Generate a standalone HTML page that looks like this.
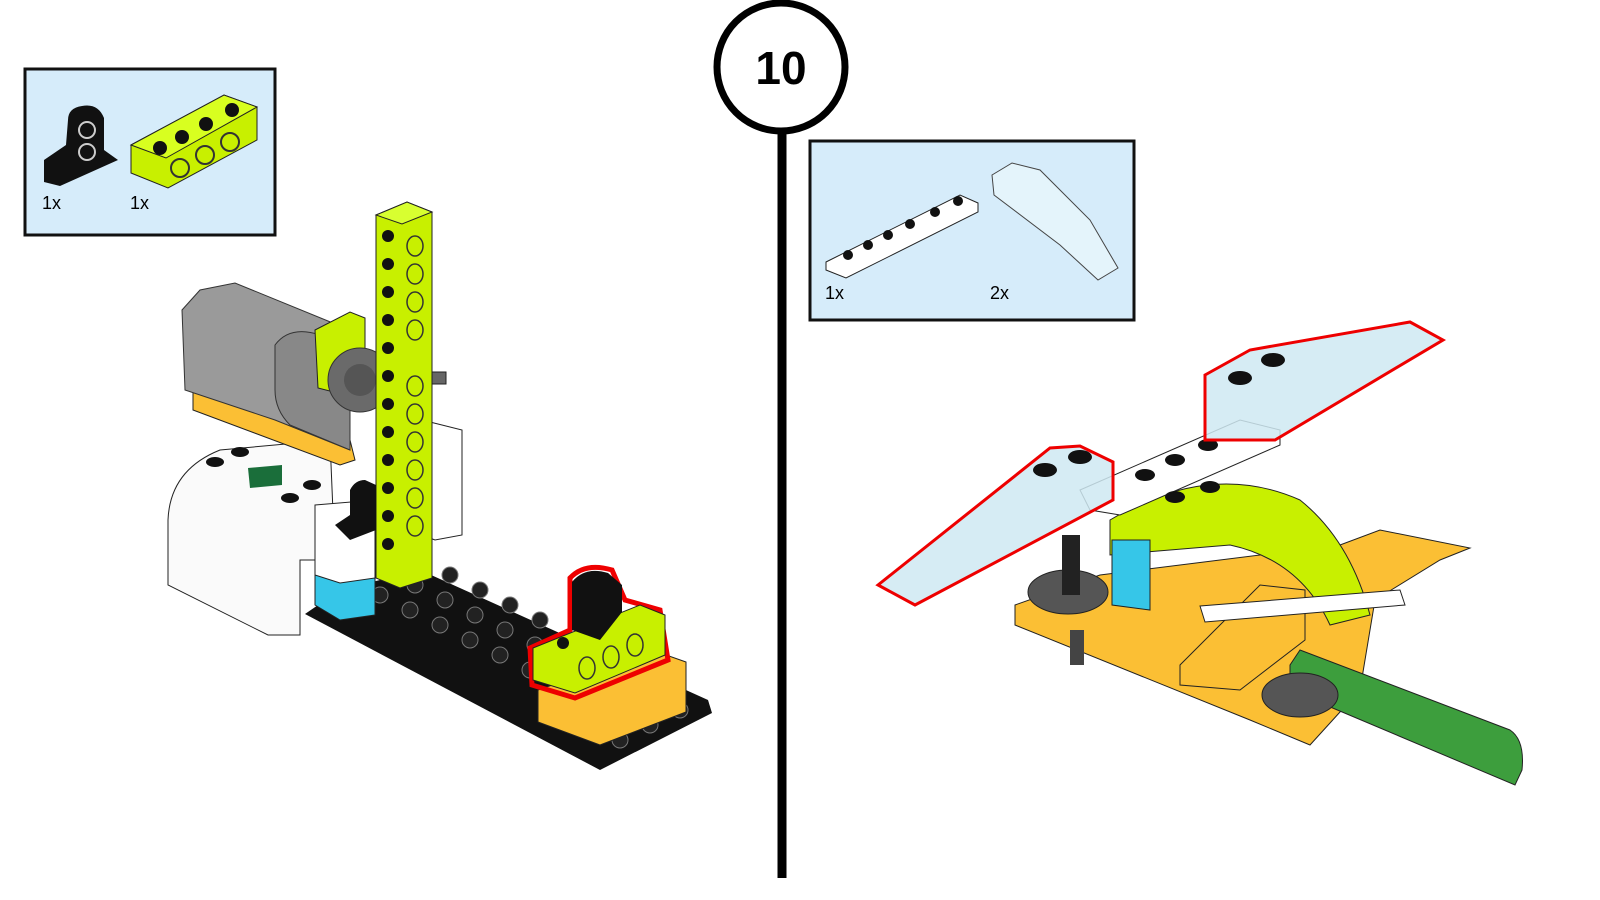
<!DOCTYPE html>
<html><head><meta charset="utf-8"><style>
html,body{margin:0;padding:0;background:#fff;}
svg{display:block;}
text{font-family:"Liberation Sans",sans-serif;}
</style></head><body>
<svg width="1600" height="900" viewBox="0 0 1600 900" xmlns="http://www.w3.org/2000/svg">
<rect width="1600" height="900" fill="#fff"/>
<!-- step marker -->
<line x1="782" y1="128" x2="782" y2="878" stroke="#000" stroke-width="9"/>
<circle cx="781" cy="67" r="64" fill="#fff" stroke="#000" stroke-width="7"/>
<text x="781" y="84" font-size="46" font-weight="bold" text-anchor="middle">10</text>

<!-- left parts box -->
<rect x="25" y="69" width="250" height="166" fill="#d6ecfa" stroke="#111" stroke-width="3"/>
<path d="M44,168 L44,182 L60,186 L118,160 L104,150 L104,118 Q98,103 82,106 Q68,108 68,120 L66,145 L44,160 Z" fill="#111"/>
<circle cx="87" cy="130" r="8" fill="none" stroke="#ccc" stroke-width="2"/><circle cx="87" cy="152" r="8" fill="none" stroke="#ccc" stroke-width="2"/>
<polygon points="131,145 224,95 257,107 257,140 168,188 131,173" fill="#c8f000" stroke="#222"/>
<polygon points="131,145 224,95 257,107 166,158" fill="#d8ff20" stroke="#222"/>
<g fill="#111"><circle cx="160" cy="148" r="7"/><circle cx="182" cy="137" r="7"/><circle cx="206" cy="124" r="7"/><circle cx="232" cy="110" r="7"/></g>
<g fill="none" stroke="#333" stroke-width="2"><circle cx="180" cy="168" r="9"/><circle cx="205" cy="155" r="9"/><circle cx="230" cy="142" r="9"/></g>
<text x="42" y="209" font-size="18">1x</text>
<text x="130" y="209" font-size="18">1x</text>

<!-- right parts box -->
<rect x="810" y="141" width="324" height="179" fill="#d6ecfa" stroke="#111" stroke-width="3"/>
<polygon points="826,262 960,195 978,203 978,212 846,278 826,270" fill="#fff" stroke="#222"/>
<g fill="#111"><circle cx="848" cy="255" r="5"/><circle cx="868" cy="245" r="5"/><circle cx="888" cy="235" r="5"/><circle cx="910" cy="224" r="5"/><circle cx="935" cy="212" r="5"/><circle cx="958" cy="201" r="5"/></g>
<polygon points="992,175 1012,163 1040,170 1090,220 1118,268 1098,280 1060,245 994,195" fill="#e4f4fb" stroke="#444"/>
<text x="825" y="299" font-size="18">1x</text>
<text x="990" y="299" font-size="18">2x</text>

<!-- LEFT MODEL -->
<polygon points="305,614 600,770 712,713 708,700 420,570 340,590" fill="#111"/>
<g fill="#222" stroke="#777" stroke-width="1">
<circle cx="380" cy="595" r="8"/><circle cx="410" cy="610" r="8"/><circle cx="440" cy="625" r="8"/><circle cx="470" cy="640" r="8"/><circle cx="500" cy="655" r="8"/><circle cx="530" cy="670" r="8"/>
<circle cx="415" cy="585" r="8"/><circle cx="445" cy="600" r="8"/><circle cx="475" cy="615" r="8"/><circle cx="505" cy="630" r="8"/><circle cx="535" cy="645" r="8"/>
<circle cx="450" cy="575" r="8"/><circle cx="480" cy="590" r="8"/><circle cx="510" cy="605" r="8"/><circle cx="540" cy="620" r="8"/>
<circle cx="620" cy="740" r="8"/><circle cx="650" cy="725" r="8"/><circle cx="680" cy="710" r="8"/></g>
<!-- hub -->
<path d="M168,520 Q170,470 220,450 L330,440 L335,560 L300,560 L300,635 L268,635 L168,585 Z" fill="#fafafa" stroke="#222"/>
<polygon points="248,468 282,465 282,485 250,488" fill="#1a6e3a"/>
<g fill="#111"><ellipse cx="215" cy="462" rx="9" ry="5"/><ellipse cx="240" cy="452" rx="9" ry="5"/><ellipse cx="290" cy="498" rx="9" ry="5"/><ellipse cx="312" cy="485" rx="9" ry="5"/></g>
<!-- cyan + white block -->
<polygon points="315,540 375,530 375,615 340,620 315,605" fill="#36c6e8" stroke="#222"/>
<polygon points="315,505 375,500 375,578 340,583 315,575" fill="#fff" stroke="#222"/>
<polygon points="422,420 462,430 462,535 435,540 422,535" fill="#fff" stroke="#222"/>
<!-- orange under motor -->
<polygon points="193,378 350,440 355,460 340,465 193,410" fill="#fbbf34" stroke="#222"/>
<!-- motor -->
<path d="M182,310 L200,290 L235,283 L350,330 L350,450 L275,420 L185,390 Z" fill="#9a9a9a" stroke="#333"/>
<path d="M275,345 Q290,325 320,335 L350,350 L350,450 L290,425 Q275,410 275,390 Z" fill="#888" stroke="#333"/>
<!-- lime brick behind gear -->
<polygon points="315,330 350,312 365,318 365,400 318,388" fill="#c8f000" stroke="#222"/>
<circle cx="360" cy="380" r="32" fill="#6a6a6a" stroke="#333"/>
<circle cx="360" cy="380" r="16" fill="#555"/>
<rect x="420" y="372" width="26" height="12" fill="#666" stroke="#222"/>
<!-- vertical beam -->
<polygon points="376,215 407,202 432,212 432,578 400,588 376,578" fill="#c8f000" stroke="#222"/>
<polygon points="376,215 407,202 432,212 402,224" fill="#d8ff30" stroke="#222"/>
<g fill="#111">
<circle cx="388" cy="236" r="6"/><circle cx="388" cy="264" r="6"/><circle cx="388" cy="292" r="6"/><circle cx="388" cy="320" r="6"/><circle cx="388" cy="348" r="6"/><circle cx="388" cy="376" r="6"/><circle cx="388" cy="404" r="6"/><circle cx="388" cy="432" r="6"/><circle cx="388" cy="460" r="6"/><circle cx="388" cy="488" r="6"/><circle cx="388" cy="516" r="6"/><circle cx="388" cy="544" r="6"/></g>
<g fill="none" stroke="#333" stroke-width="1.5">
<ellipse cx="415" cy="246" rx="8" ry="10"/><ellipse cx="415" cy="274" rx="8" ry="10"/><ellipse cx="415" cy="302" rx="8" ry="10"/><ellipse cx="415" cy="330" rx="8" ry="10"/><ellipse cx="415" cy="386" rx="8" ry="10"/><ellipse cx="415" cy="414" rx="8" ry="10"/><ellipse cx="415" cy="442" rx="8" ry="10"/><ellipse cx="415" cy="470" rx="8" ry="10"/><ellipse cx="415" cy="498" rx="8" ry="10"/><ellipse cx="415" cy="526" rx="8" ry="10"/></g>
<!-- small black pin connector -->
<path d="M335,525 L350,515 L350,490 Q355,480 365,480 L376,485 L376,530 L350,540 Z" fill="#111"/>
<!-- orange brick -->
<polygon points="538,690 652,650 686,662 686,712 600,745 538,722" fill="#fbbf34" stroke="#222"/>
<!-- lime brick with red outline -->
<path d="M530,648 L570,630 L570,578 Q585,562 612,570 L625,600 L660,610 L668,660 L575,698 L532,685 Z" fill="none" stroke="#e00" stroke-width="5"/>
<polygon points="533,648 640,605 665,615 665,655 575,693 533,680" fill="#c8f000" stroke="#222"/>
<path d="M572,630 L572,582 Q585,566 608,573 L622,585 L622,612 L600,640 Z" fill="#111"/>
<g fill="none" stroke="#333" stroke-width="1.5"><ellipse cx="587" cy="668" rx="8" ry="11"/><ellipse cx="611" cy="657" rx="8" ry="11"/><ellipse cx="635" cy="645" rx="8" ry="11"/></g>
<circle cx="563" cy="643" r="6" fill="#111"/>

<!-- RIGHT MODEL -->
<polygon points="1015,605 1100,575 1340,545 1380,530 1470,548 1440,560 1375,600 1360,690 1310,745 1250,720 1015,625" fill="#fbbf34" stroke="#222"/>
<path d="M1110,520 Q1210,460 1300,500 Q1350,540 1370,615 L1330,625 Q1300,560 1230,545 L1110,555 Z" fill="#c8f000" stroke="#222"/>
<polygon points="1112,540 1150,540 1150,610 1112,605" fill="#36c6e8" stroke="#222"/>
<polygon points="1180,665 1260,585 1305,590 1305,640 1240,690 1180,685" fill="#fbbf34" stroke="#222"/>
<polygon points="1200,606 1400,590 1405,605 1205,622" fill="#fff" stroke="#222"/>
<!-- green beam -->
<path d="M1290,665 L1300,650 L1510,730 Q1525,740 1522,770 L1515,785 L1290,690 Z" fill="#3d9e3d" stroke="#222"/>
<ellipse cx="1300" cy="695" rx="38" ry="22" fill="#555" stroke="#222"/>
<ellipse cx="1068" cy="592" rx="40" ry="22" fill="#555" stroke="#222"/>
<rect x="1062" y="535" width="18" height="60" fill="#222"/>
<rect x="1070" y="630" width="14" height="35" fill="#444"/>
<!-- white plate -->
<polygon points="1080,490 1240,420 1280,430 1280,445 1120,515 1090,510" fill="#fff" stroke="#222"/>
<g fill="#111"><ellipse cx="1145" cy="475" rx="10" ry="6"/><ellipse cx="1175" cy="460" rx="10" ry="6"/><ellipse cx="1208" cy="445" rx="10" ry="6"/></g>
<!-- wings -->
<path d="M878,585 L1050,448 L1080,446 L1113,462 L1113,500 L915,605 Z" fill="#cfe9f2" fill-opacity="0.85" stroke="#e00" stroke-width="3"/>
<path d="M1205,375 L1250,350 L1410,322 L1443,340 L1275,440 L1205,440 Z" fill="#cfe9f2" fill-opacity="0.85" stroke="#e00" stroke-width="3"/>
<g fill="#111"><ellipse cx="1045" cy="470" rx="12" ry="7"/><ellipse cx="1080" cy="457" rx="12" ry="7"/><ellipse cx="1240" cy="378" rx="12" ry="7"/><ellipse cx="1273" cy="360" rx="12" ry="7"/><ellipse cx="1175" cy="497" rx="10" ry="6"/><ellipse cx="1210" cy="487" rx="10" ry="6"/></g>
</svg>
</body></html>
